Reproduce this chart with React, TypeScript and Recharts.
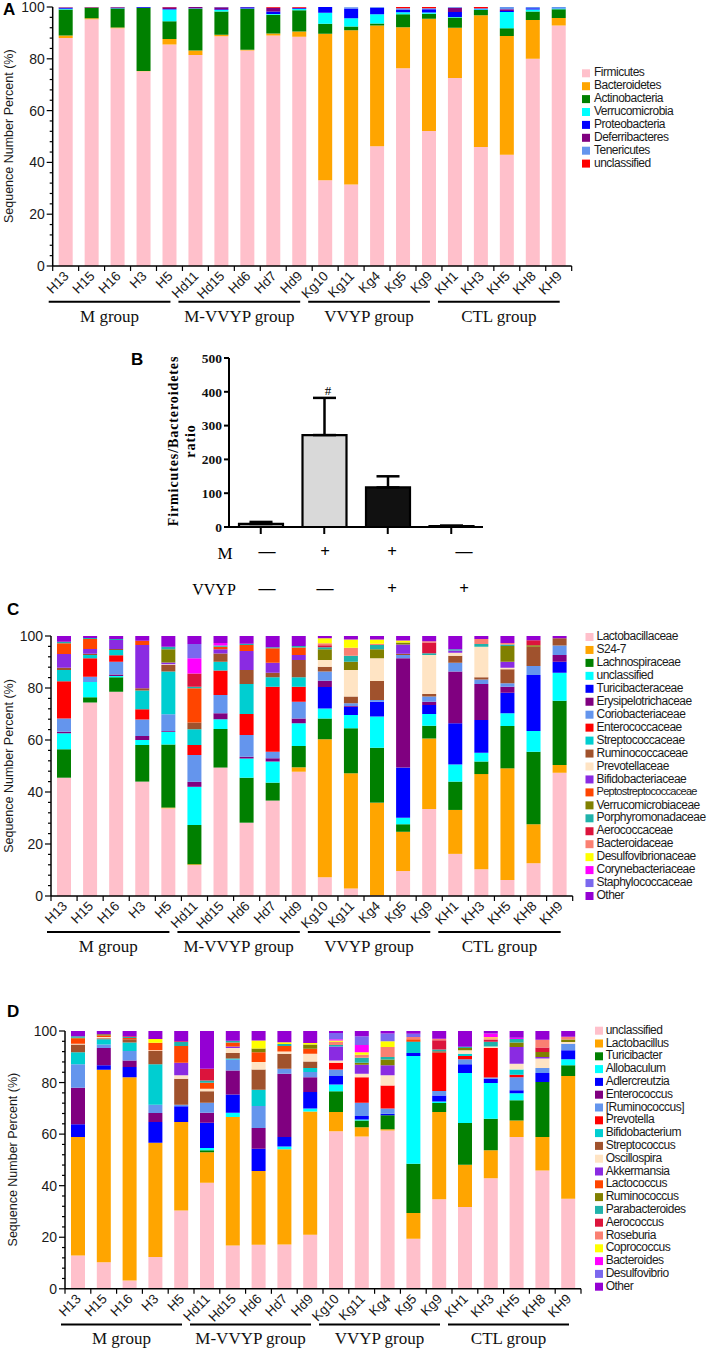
import React from 'react'
import { BarChart, Bar, XAxis, YAxis, ErrorBar, Cell } from 'recharts'

const SANS = '"Liberation Sans", Arial, sans-serif'
const SERIF = '"Liberation Serif", "Times New Roman", serif'

// samples shared by panels A, C and D
const samples = ['H13', 'H15', 'H16', 'H3', 'H5', 'Hd11', 'Hd15', 'Hd6', 'Hd7', 'Hd9', 'Kg10', 'Kg11', 'Kg4', 'Kg5', 'Kg9', 'KH1', 'KH3', 'KH5', 'KH8', 'KH9']
const groupNames = ['M group', 'M-VVYP group', 'VVYP group', 'CTL group']
const groupStart = [0, 5, 10, 15]
const groupEnd = [4, 9, 14, 19]
const percentTicks = [0, 4, 8, 12, 16, 20, 24, 28, 32, 36, 40, 44, 48, 52, 56, 60, 64, 68, 72, 76, 80, 84, 88, 92, 96, 100]

// colours used by the stacked legends
const PINK = '#ffc0cb'
const ORANGE = '#ffa500'
const GREEN = '#008000'
const CYAN = '#00ffff'
const BLUE = '#0000ff'
const PURPLE = '#800080'
const CORNFLOWER = '#6495ed'
const RED = '#ff0000'
const TURQUOISE = '#00ced1'
const SIENNA = '#a0522d'
const BISQUE = '#ffe4c4'
const BLUEVIOLET = '#8a2be2'
const ORANGERED = '#ff4500'
const OLIVE = '#808000'
const SEAGREEN = '#20b2aa'
const CRIMSON = '#dc143c'
const SALMON = '#fa8072'
const YELLOW = '#ffff00'
const MAGENTA = '#ff00ff'
const SLATEBLUE = '#7b68ee'
const DARKVIOLET = '#9400d3'

// ---- panel A: phylum level ----
const firmicutes = [88, 95.3, 91.8, 75.2, 85.5, 81.5, 88.7, 83.2, 89, 88.5, 33.1, 31.5, 46.2, 76.4, 52.1, 72.6, 45.9, 43, 80, 92.9]
const bacteroidetes = [1, 0.4, 0.3, 0.1, 2.1, 1.7, 0.6, 0.3, 0.8, 2, 56.6, 59.5, 46.7, 15.8, 43.4, 19.4, 50.9, 45.8, 15, 2.9]
const actinobacteria = [10, 4, 7.3, 24.4, 6.9, 16.1, 9, 15.8, 7.2, 8.2, 3.8, 1.5, 0.7, 5, 1.9, 3.9, 2, 3, 3.3, 3.3]
const verrucomicrobia = [0.3, 0.05, 0.1, 0, 4.5, 0.1, 0.5, 0.1, 0.3, 0.5, 4.3, 3.2, 3.6, 0.8, 0.5, 0.2, 0.3, 6.3, 0.7, 0.3]
const proteobacteria = [0.4, 0.05, 0.3, 0.3, 0.2, 0.1, 0.3, 0.5, 1, 0.3, 2.2, 3.7, 2.5, 1, 1.2, 2, 0.2, 0.4, 0.5, 0.1]
const deferribacteres = [0.1, 0.1, 0.1, 0, 0.7, 0.5, 0.8, 0.1, 1.3, 0.1, 0, 0, 0, 0, 0, 1.6, 0.1, 0.6, 0, 0]
const tenericutes = [0.1, 0.05, 0.05, 0, 0.05, 0, 0.1, 0, 0.1, 0.1, 0, 0.5, 0.3, 0.5, 0.4, 0.3, 0.1, 0.9, 0.5, 0.5]
const unclassifiedPhylum = [0.1, 0.05, 0.05, 0, 0.05, 0, 0, 0, 0.3, 0.3, 0, 0, 0, 0.5, 0.5, 0, 0.5, 0, 0, 0]

const phylumSeries = [
  { name: 'Firmicutes', color: PINK, values: firmicutes },
  { name: 'Bacteroidetes', color: ORANGE, values: bacteroidetes },
  { name: 'Actinobacteria', color: GREEN, values: actinobacteria },
  { name: 'Verrucomicrobia', color: CYAN, values: verrucomicrobia },
  { name: 'Proteobacteria', color: BLUE, values: proteobacteria },
  { name: 'Deferribacteres', color: PURPLE, values: deferribacteres },
  { name: 'Tenericutes', color: CORNFLOWER, values: tenericutes },
  { name: 'unclassified', color: RED, values: unclassifiedPhylum },
]

// ---- panel B: Firmicutes/Bacteroidetes ratio ----
const ratioKeys = ['ctl', 'm', 'mv', 'v']
const ratioMean = [9, 272, 117, 3]
const ratioErr = [6, 110, 33, 1]
const ratioFill = ['#a6a6a6', '#d9d9d9', '#111111', '#ffffff']
const ratioTicks = [0, 100, 200, 300, 400, 500]
const mSigns = ['—', '+', '+', '—']
const vvypSigns = ['—', '—', '+', '+']

// ---- panel C: family level ----
const lactobacillaceae = [45.5, 74.4, 78.6, 44, 33.7, 11.9, 49.4, 28.2, 36.7, 47.8, 7.2, 2.9, 0.3, 9.6, 33.5, 16.2, 10.3, 6.2, 12.6, 47.4]
const s247 = [0, 0, 0, 0, 0.3, 0.3, 0, 0, 0, 1.7, 53.1, 44.3, 35.6, 15.1, 27.1, 16.9, 36.6, 42.9, 15, 3]
const lachnospiraceae = [10.9, 2, 5.5, 14.1, 24.3, 15.1, 14.8, 17.3, 6.9, 8.2, 8, 17.3, 21.1, 2.9, 4.9, 10.9, 4.8, 16.3, 27.9, 24.7]
const unclassifiedFamily = [6.2, 5.9, 0.5, 1.9, 4.9, 14.7, 3.8, 7.4, 8.1, 8.7, 3.8, 5.1, 12, 2.5, 4.5, 6.6, 3.4, 4.9, 8, 10.8]
const turicibacteraceae = [0, 0, 0, 0, 0, 0, 0, 0, 0, 0, 8.3, 3.2, 5.7, 19.3, 3.5, 15.8, 12.6, 7.9, 21.5, 4.2]
const erysipelotrichaceae = [0.6, 0, 0.6, 1.5, 0.3, 1.9, 2.3, 0.7, 1.3, 1.9, 2.4, 0.3, 0, 42, 1.2, 19.9, 13.8, 2.3, 0, 2.6]
const coriobacteriaceae = [5.1, 2, 4.9, 6.4, 6.4, 10.3, 7, 8.3, 2.5, 6.4, 3.5, 1, 0.7, 1.3, 2, 3.4, 1.8, 1.3, 3.5, 3.6]
const enterococcaceae = [14.3, 7.1, 2.5, 3.9, 0, 3.9, 9.4, 8.1, 25, 5.8, 0, 0, 0, 0, 0, 0, 0, 0, 0, 0]
const streptococcaceae = [4.3, 1.3, 2, 7.2, 16.4, 6, 3.4, 11.5, 3.6, 3.6, 0, 0, 0, 0, 0, 0, 0, 0, 0, 0]
const ruminococcaceae = [0.9, 0.5, 0.4, 0.9, 2.5, 2.6, 3.2, 5.4, 1.8, 6.7, 1.9, 2.6, 7.3, 0.5, 1, 2.7, 0.8, 5.4, 7.4, 2.8]
const prevotellaceae = [0, 0, 0, 0, 0.3, 0, 0, 0, 0, 0, 2.6, 10.2, 8.7, 0, 15, 1.2, 11.8, 0.6, 0, 0]
const bifidobacteriaceae = [5.3, 1.8, 3.5, 16.6, 0.7, 0, 1.6, 7.3, 3.8, 1.9, 0, 0, 0, 3.5, 0, 0.8, 0, 2.3, 0, 0]
const peptostreptococcaceae = [4.1, 3.8, 0, 1.7, 0, 13.2, 1, 2.3, 5.6, 2.9, 0, 0, 0, 0, 0, 0, 0, 0, 0, 0]
const verrucomicrobiaceae = [0, 0, 0, 0, 5.1, 0, 0, 0, 0, 0, 4.1, 3.2, 3.5, 0.8, 0, 0, 0, 6.1, 0.5, 0]
const porphyromonadaceae = [0.6, 0.4, 0.3, 0, 1, 0.6, 0.4, 0.5, 0.4, 0.6, 0.8, 2.3, 1.6, 0, 0.7, 0.5, 1, 0.5, 0, 0]
const aerococcaceae = [0, 0, 0, 0, 0, 5.1, 0, 0, 0, 0, 0.7, 0, 0, 0, 4.1, 0, 0, 0, 2, 0]
const bacteroidaceae = [0, 0, 0, 0, 0, 0, 0, 0, 0, 0, 0.8, 3.1, 0.5, 0, 0.5, 0, 1.9, 0.6, 0, 0]
const desulfovibrionaceae = [0, 0, 0, 0, 0, 0, 0, 0, 0, 0, 1.9, 3.2, 1.7, 0.8, 0, 0, 0, 0, 0, 0]
const corynebacteriaceae = [0, 0, 0, 0, 0, 5.8, 1, 0, 0, 0, 0, 0, 0, 0, 0, 0, 0, 0, 0, 0]
const staphylococcaceae = [0, 0, 0, 0, 0, 5.5, 0, 0, 0, 0, 0, 0, 0, 0, 0, 0, 0, 0, 0, 0]
const otherFamily = [2.2, 0.8, 1.2, 1.8, 4.1, 3.1, 2.7, 3, 4.3, 3.8, 0.9, 1.3, 1.3, 1.7, 2, 5.1, 1.2, 2.7, 1.6, 0.9]

const familySeries = [
  { name: 'Lactobacillaceae', color: PINK, values: lactobacillaceae },
  { name: 'S24-7', color: ORANGE, values: s247 },
  { name: 'Lachnospiraceae', color: GREEN, values: lachnospiraceae },
  { name: 'unclassified', color: CYAN, values: unclassifiedFamily },
  { name: 'Turicibacteraceae', color: BLUE, values: turicibacteraceae },
  { name: 'Erysipelotrichaceae', color: PURPLE, values: erysipelotrichaceae },
  { name: 'Coriobacteriaceae', color: CORNFLOWER, values: coriobacteriaceae },
  { name: 'Enterococcaceae', color: RED, values: enterococcaceae },
  { name: 'Streptococcaceae', color: TURQUOISE, values: streptococcaceae },
  { name: 'Ruminococcaceae', color: SIENNA, values: ruminococcaceae },
  { name: 'Prevotellaceae', color: BISQUE, values: prevotellaceae },
  { name: 'Bifidobacteriaceae', color: BLUEVIOLET, values: bifidobacteriaceae },
  { name: 'Peptostreptococcaceae', color: ORANGERED, values: peptostreptococcaceae },
  { name: 'Verrucomicrobiaceae', color: OLIVE, values: verrucomicrobiaceae },
  { name: 'Porphyromonadaceae', color: SEAGREEN, values: porphyromonadaceae },
  { name: 'Aerococcaceae', color: CRIMSON, values: aerococcaceae },
  { name: 'Bacteroidaceae', color: SALMON, values: bacteroidaceae },
  { name: 'Desulfovibrionaceae', color: YELLOW, values: desulfovibrionaceae },
  { name: 'Corynebacteriaceae', color: MAGENTA, values: corynebacteriaceae },
  { name: 'Staphylococcaceae', color: SLATEBLUE, values: staphylococcaceae },
  { name: 'Other', color: DARKVIOLET, values: otherFamily },
]

// ---- panel D: genus level ----
const unclassifiedGenus = [12.9, 10.3, 3.2, 12.3, 30.4, 41.1, 16.8, 17.1, 17.2, 21, 61.1, 59.1, 61.4, 19.4, 34.7, 31.7, 42.9, 58.9, 45.9, 34.9]
const lactobacillus = [46, 74.7, 78.9, 44.4, 34.3, 11.9, 49.8, 28.6, 36.9, 47.8, 7.5, 3.6, 0.5, 10, 33.9, 16.4, 10.8, 6.4, 13, 47.6]
const turicibacter = [0, 0, 0, 0, 0, 0.7, 0, 0, 0, 0, 8, 2.6, 5.4, 19.1, 3.5, 16.2, 12.3, 7.8, 21.3, 4.2]
const allobaculum = [0, 0, 0, 0, 0, 0.9, 1.7, 0, 1.1, 1.1, 2.6, 0.4, 0, 41.8, 0.6, 19.4, 13.8, 2.8, 0, 2.3]
const adlercreutzia = [4.9, 1.7, 3.9, 8, 6.1, 9.8, 7.1, 8.6, 3.7, 6.4, 3.3, 1.3, 0.6, 1.2, 2.3, 3.4, 1.7, 1.1, 3.5, 3.5]
const enterococcus = [14.2, 6.7, 2.6, 3.5, 0, 3.9, 9.3, 8.1, 24.5, 5.8, 0, 0, 0, 0, 0, 0, 0, 0, 0, 0]
const ruminococcusBracket = [9.1, 1.4, 3.6, 3.2, 0.6, 3.9, 4.2, 8.5, 2, 2, 2.6, 5.2, 2, 0, 1.7, 1.9, 0.5, 5.1, 1.9, 2.6]
const prevotella = [0, 0, 0, 0, 0, 0, 0, 0, 0, 0, 2.6, 9.9, 9, 0, 14.9, 1.3, 11.4, 0.9, 0, 0]
const bifidobacterium = [4.7, 2, 3.3, 15.7, 0, 0, 0.4, 6.3, 0, 1.5, 0, 0, 0, 4.2, 0, 0.9, 0, 2.1, 0, 0]
const streptococcus = [3, 0.4, 1.3, 5.1, 10.1, 4.4, 2.2, 7.9, 5.8, 2.6, 0, 0, 0, 0.3, 0.5, 0, 0, 0, 0, 0]
const oscillospira = [0.3, 0.5, 0, 0.3, 1.3, 1, 1.9, 2.9, 0.8, 3, 0.9, 1.3, 3.9, 0, 0, 1.3, 0.6, 2.2, 3.7, 0.6]
const akkermansia = [0, 0, 0, 0, 4.9, 0, 0.6, 0, 0, 0, 5.4, 3.5, 3.9, 0, 0, 0, 0, 6.5, 0.6, 0]
const lactococcus = [2.1, 0.6, 0.5, 2.9, 6.5, 2.3, 1.5, 3.8, 2.2, 1.9, 0, 0, 0, 0.8, 0, 0, 0, 0, 0, 0]
const ruminococcus = [0.2, 0.4, 0, 0, 0, 0, 0, 1.4, 0, 1.7, 0, 0.8, 2.2, 0, 0, 0.9, 0, 1.7, 2, 1]
const parabacteroides = [0.6, 0, 0.4, 0, 1.5, 0.9, 0.7, 0, 0.8, 0, 0.6, 1.9, 1, 0, 0.7, 0.5, 1.8, 1.4, 0, 0]
const aerococcus = [0, 0, 0.3, 0, 0.3, 4.6, 0, 0, 0, 0, 0, 0, 0, 0, 3.6, 0, 0.8, 0, 1.7, 0]
const roseburia = [0, 0, 0, 0, 0, 0, 0, 0, 0, 0, 1.2, 1.2, 3.9, 0.9, 0.6, 0, 0.6, 0, 3, 1.1]
const coprococcus = [0, 0, 0, 1.5, 0, 0, 0, 3.1, 0.6, 0.5, 0.5, 1, 2.2, 0, 0, 0, 0.4, 0, 0, 0]
const bacteroides = [0, 0, 0, 0, 0, 0, 0, 0, 0, 0, 0.5, 2.8, 0, 0, 0, 0, 1.4, 0.5, 0, 0]
const desulfovibrio = [0, 0, 0, 0, 0, 0, 0, 0, 0, 0, 2.4, 3.4, 3, 1.2, 0, 0, 0, 0, 0, 0]
const otherGenus = [2, 1.3, 2, 3.1, 4, 14.6, 3.8, 3.7, 4.4, 4.7, 0.8, 2, 1, 1.1, 3, 6.1, 1, 2.6, 3.4, 2.2]

const genusSeries = [
  { name: 'unclassified', color: PINK, values: unclassifiedGenus },
  { name: 'Lactobacillus', color: ORANGE, values: lactobacillus },
  { name: 'Turicibacter', color: GREEN, values: turicibacter },
  { name: 'Allobaculum', color: CYAN, values: allobaculum },
  { name: 'Adlercreutzia', color: BLUE, values: adlercreutzia },
  { name: 'Enterococcus', color: PURPLE, values: enterococcus },
  { name: '[Ruminococcus]', color: CORNFLOWER, values: ruminococcusBracket },
  { name: 'Prevotella', color: RED, values: prevotella },
  { name: 'Bifidobacterium', color: TURQUOISE, values: bifidobacterium },
  { name: 'Streptococcus', color: SIENNA, values: streptococcus },
  { name: 'Oscillospira', color: BISQUE, values: oscillospira },
  { name: 'Akkermansia', color: BLUEVIOLET, values: akkermansia },
  { name: 'Lactococcus', color: ORANGERED, values: lactococcus },
  { name: 'Ruminococcus', color: OLIVE, values: ruminococcus },
  { name: 'Parabacteroides', color: SEAGREEN, values: parabacteroides },
  { name: 'Aerococcus', color: CRIMSON, values: aerococcus },
  { name: 'Roseburia', color: SALMON, values: roseburia },
  { name: 'Coprococcus', color: YELLOW, values: coprococcus },
  { name: 'Bacteroides', color: MAGENTA, values: bacteroides },
  { name: 'Desulfovibrio', color: SLATEBLUE, values: desulfovibrio },
  { name: 'Other', color: DARKVIOLET, values: otherGenus },
]

type Series = { name: string; color: string; values: number[] }

const panelA = { left: 52.7, right: 571.7, top: 6.7, bottom: 265.7, titleX: 10, letterX: 3, letterY: 15, legendSq: 582, legendTx: 594, legendTop: 73.3, legendStep: 12.9 }
const panelC = { left: 51, right: 572.7, top: 636, bottom: 896, titleX: 10, letterX: 7, letterY: 615, legendSq: 585.5, legendTx: 596.5, legendTop: 637, legendStep: 12.95 }
const panelD = { left: 65, right: 581, top: 1030.7, bottom: 1288.5, titleX: 14, letterX: 7, letterY: 1017, legendSq: 595, legendTx: 605.7, legendTop: 1030.7, legendStep: 12.8 }
const panelB = { left: 229, right: 483, top: 357.7, bottom: 526.7 }

const LEGEND_FONT = 12
const LEGEND_SPACING = -0.5

// rough width of a legend label, to shrink the few that would run off the page
function labelWidth(s: string, size: number, spacing: number) {
  let w = 0
  for (const ch of s) {
    if ('iltrfjI[]- '.includes(ch)) w += 0.3
    else if ('mwMW'.includes(ch)) w += 0.83
    else if (ch >= 'A' && ch <= 'Z') w += 0.68
    else w += 0.556
  }
  return w * size + spacing * s.length
}

function PercentTick(props: any) {
  const { x, y, payload } = props
  const major = payload.value % 20 === 0
  return (
    <g>
      <line x1={x} x2={x - (major ? 6 : 3)} y1={y} y2={y} stroke="#000" strokeWidth={1.2} />
      {major && (
        <text x={x - 8} y={y} dy="0.36em" textAnchor="end" fontSize={14} fontFamily={SANS} fill="#1a1a1a">
          {payload.value}
        </text>
      )}
    </g>
  )
}

function StackPanel({ series, box }: { series: Series[]; box: typeof panelA }) {
  const band = (box.right - box.left) / samples.length
  const rows = samples.map((s, i) => {
    const row: Record<string, string | number> = { sample: s }
    series.forEach((se, k) => {
      row['s' + k] = se.values[i]
    })
    return row
  })
  const width = box.right + 10
  const height = box.bottom - box.top + 50
  return (
    <div style={{ position: 'absolute', left: 0, top: box.top - 10 }}>
      <BarChart width={width} height={height} data={rows} margin={{ top: 10, right: 10, left: 0, bottom: 0 }} barSize={14}>
        <XAxis
          dataKey="sample"
          height={40}
          interval={0}
          tickSize={0}
          tickMargin={0}
          tickLine={false}
          axisLine={{ stroke: '#000', strokeWidth: 1.5 }}
          tick={(p: any) => (
            <g>
              <line x1={p.x + band / 2} x2={p.x + band / 2} y1={p.y} y2={p.y + 5} stroke="#000" strokeWidth={1.2} />
              {p.index === 0 && <line x1={p.x - band / 2} x2={p.x - band / 2} y1={p.y} y2={p.y + 5} stroke="#000" strokeWidth={1.2} />}
              <text
                x={p.x + 4}
                y={p.y + 11}
                transform={`rotate(-45 ${p.x + 4} ${p.y + 11})`}
                textAnchor="end"
                fontSize={13.5}
                fontFamily={SANS}
                fill="#1a1a1a"
              >
                {p.payload.value}
              </text>
            </g>
          )}
        />
        <YAxis
          type="number"
          domain={[0, 100]}
          ticks={percentTicks}
          interval={0}
          width={box.left}
          tickSize={0}
          tickMargin={0}
          tickLine={false}
          allowDataOverflow
          axisLine={{ stroke: '#000', strokeWidth: 1.5 }}
          tick={PercentTick}
        />
        {series.map((se, k) => (
          <Bar key={se.name + k} dataKey={'s' + k} name={se.name} stackId="a" fill={se.color} isAnimationActive={false} />
        ))}
      </BarChart>
    </div>
  )
}

function RatioPanel() {
  const rows = ratioKeys.map((k, i) => ({ key: k, mean: ratioMean[i], err: [0, ratioErr[i]] }))
  const box = panelB
  return (
    <div style={{ position: 'absolute', left: 0, top: box.top - 10 }}>
      <BarChart
        width={box.right + 10}
        height={box.bottom - box.top + 30}
        data={rows}
        margin={{ top: 10, right: 10, left: 0, bottom: 0 }}
        barCategoryGap={10}
      >
        <XAxis
          dataKey="key"
          height={20}
          tickSize={0}
          tickMargin={0}
          tickLine={false}
          axisLine={{ stroke: '#000', strokeWidth: 2 }}
          tick={(p: any) => <line x1={p.x} x2={p.x} y1={p.y} y2={p.y + 7} stroke="#000" strokeWidth={2} />}
        />
        <YAxis
          type="number"
          domain={[0, 500]}
          ticks={ratioTicks}
          interval={0}
          width={box.left}
          tickSize={0}
          tickMargin={0}
          tickLine={false}
          axisLine={{ stroke: '#000', strokeWidth: 2 }}
          tick={(p: any) => (
            <g>
              <line x1={p.x} x2={p.x - 5} y1={p.y} y2={p.y} stroke="#000" strokeWidth={2} />
              <text x={p.x - 7} y={p.y} dy="0.35em" textAnchor="end" fontSize={13.5} fontWeight="bold" fontFamily={SERIF} fill="#111">
                {p.payload.value}
              </text>
            </g>
          )}
        />
        <Bar dataKey="mean" stroke="#000" strokeWidth={2.2} isAnimationActive={false}>
          {rows.map((r, i) => (
            <Cell key={r.key} fill={ratioFill[i]} />
          ))}
          <ErrorBar dataKey="err" direction="y" width={11.5} strokeWidth={2.5} stroke="#000" />
        </Bar>
      </BarChart>
    </div>
  )
}

function StackAnnotations({ series, box, letter }: { series: Series[]; box: typeof panelA; letter: string }) {
  const band = (box.right - box.left) / samples.length
  const cy = (box.top + box.bottom) / 2
  const room = 707 - box.legendTx
  return (
    <g>
      <text x={box.letterX} y={box.letterY} fontSize={17} fontWeight="bold" fontFamily={SANS}>
        {letter}
      </text>
      <text
        transform={`translate(${box.titleX},${cy}) rotate(-90)`}
        textAnchor="middle"
        dominantBaseline="middle"
        fontSize={12.5}
        fontFamily={SANS}
        fill="#1a1a1a"
      >
        Sequence Number Percent (%)
      </text>
      {groupNames.map((g, i) => {
        const x1 = box.left + groupStart[i] * band - 4
        const x2 = box.left + (groupEnd[i] + 1) * band - 12
        return (
          <g key={g}>
            <line x1={x1} x2={x2} y1={box.bottom + 36} y2={box.bottom + 36} stroke="#000" strokeWidth={2} />
            <text x={(x1 + x2) / 2} y={box.bottom + 52} textAnchor="middle" dominantBaseline="middle" fontSize={17} fontFamily={SERIF} fill="#111">
              {g}
            </text>
          </g>
        )
      })}
      {series.map((se, k) => {
        const y = box.legendTop + k * box.legendStep
        const tight = labelWidth(se.name, LEGEND_FONT, LEGEND_SPACING) > room
        return (
          <g key={se.name + k}>
            <rect x={box.legendSq} y={y - 4} width={8} height={8} fill={se.color} />
            <text
              x={box.legendTx}
              y={y}
              dominantBaseline="middle"
              fontSize={tight ? 11 : LEGEND_FONT}
              letterSpacing={tight ? -0.7 : LEGEND_SPACING}
              fontFamily={SANS}
              fill="#1a1a1a"
            >
              {se.name}
            </text>
          </g>
        )
      })}
    </g>
  )
}

const signX = [267, 325, 392, 464]

export default function App() {
  return (
    <div style={{ position: 'absolute', left: 0, top: 0, width: 709, height: 1353, background: '#fff', overflow: 'hidden' }}>
      <StackPanel series={phylumSeries} box={panelA} />
      <RatioPanel />
      <StackPanel series={familySeries} box={panelC} />
      <StackPanel series={genusSeries} box={panelD} />
      <svg width={709} height={1353} style={{ position: 'absolute', left: 0, top: 0, pointerEvents: 'none' }}>
        <StackAnnotations series={phylumSeries} box={panelA} letter="A" />
        <StackAnnotations series={familySeries} box={panelC} letter="C" />
        <StackAnnotations series={genusSeries} box={panelD} letter="D" />
        {/* panel B texts */}
        <text x={131} y={365} fontSize={17} fontWeight="bold" fontFamily={SANS}>
          B
        </text>
        <text transform="translate(175,441) rotate(-90)" textAnchor="middle" dominantBaseline="middle" fontSize={14} fontWeight="bold" fontFamily={SERIF} letterSpacing={0.9}>
          Firmicutes/Bacteroidetes
        </text>
        <text transform="translate(192,441) rotate(-90)" textAnchor="middle" dominantBaseline="middle" fontSize={14} fontWeight="bold" fontFamily={SERIF} letterSpacing={0.9}>
          ratio
        </text>
        <text x={328} y={392} textAnchor="middle" dominantBaseline="middle" fontSize={13} fontFamily={SERIF}>
          #
        </text>
        <text x={225} y={555} textAnchor="middle" dominantBaseline="middle" fontSize={17} fontFamily={SERIF}>
          M
        </text>
        <text x={214} y={591} textAnchor="middle" dominantBaseline="middle" fontSize={16} fontFamily={SERIF}>
          VVYP
        </text>
        {mSigns.map((s, i) => (
          <text key={'m' + i} x={signX[i]} y={553} textAnchor="middle" dominantBaseline="middle" fontSize={17} fontWeight="bold" fontFamily={SERIF}>
            {s}
          </text>
        ))}
        {vvypSigns.map((s, i) => (
          <text key={'v' + i} x={signX[i]} y={590} textAnchor="middle" dominantBaseline="middle" fontSize={17} fontWeight="bold" fontFamily={SERIF}>
            {s}
          </text>
        ))}
      </svg>
    </div>
  )
}
